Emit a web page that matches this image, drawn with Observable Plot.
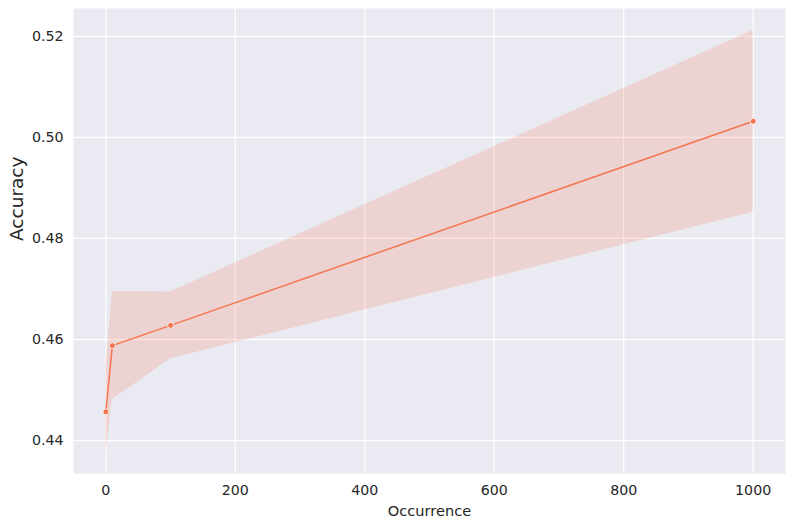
<!DOCTYPE html>
<html>
<head>
<meta charset="utf-8">
<script src="https://cdn.jsdelivr.net/npm/d3@7"></script>
<script src="https://cdn.jsdelivr.net/npm/@observablehq/plot@0.6"></script>
<style>
  html, body { margin: 0; padding: 0; background: #ffffff; }
  #chart { width: 793px; height: 529px; }
</style>
</head>
<body>
<div id="chart"></div>
<script>
const occurrence = [0, 10, 100, 1000];
const accuracy = [0.4457, 0.4588, 0.4628, 0.5032];
const lowerCI = [0.4370, 0.4481, 0.4562, 0.4852];
const upperCI = [0.4544, 0.4695, 0.4694, 0.5212];
const xTicks = [0, 200, 400, 600, 800, 1000];
const yTicks = [0.44, 0.46, 0.48, 0.50, 0.52];
const xLabel = "Occurrence";
const yLabel = "Accuracy";

const data = occurrence.map((o, i) => ({x: o, y: accuracy[i], lo: lowerCI[i], hi: upperCI[i]}));
const color = "#F4754F";
const textColor = "#262626";

const chart = Plot.plot({
  width: 793,
  height: 529,
  marginLeft: 73,
  marginRight: 8,
  marginTop: 8,
  marginBottom: 56,
  style: {fontFamily: "DejaVu Sans", fontSize: "14.2px", background: "#ffffff", color: textColor},
  x: {domain: [-50, 1050]},
  y: {domain: [0.4335, 0.5255]},
  marks: [
    Plot.frame({fill: "#EAEAF2", stroke: null}),
    Plot.ruleY(yTicks, {y: d => d, stroke: "#ffffff", strokeWidth: 1.25}),
    Plot.ruleX(xTicks, {x: d => d, stroke: "#ffffff", strokeWidth: 1.25}),
    Plot.areaY(data, {x: "x", y1: "lo", y2: "hi", fill: color, fillOpacity: 0.2}),
    Plot.line(data, {x: "x", y: "y", stroke: color, strokeWidth: 1.5}),
    Plot.dot(data, {x: "x", y: "y", r: 3, fill: color, stroke: "#ffffff", strokeWidth: 0.8}),
    Plot.axisX({ticks: xTicks, tickSize: 0, tickPadding: 11, tickFormat: d3.format("d"), label: null, fill: textColor, fontSize: "14.2px"}),
    Plot.axisY({ticks: yTicks, tickSize: 0, tickPadding: 10, tickFormat: ".2f", label: null, fill: textColor, fontSize: "14.2px"}),
    Plot.text([xLabel], {frameAnchor: "bottom", dy: 42, text: d => d, fontSize: 14.6, fill: textColor}),
    Plot.text([yLabel], {frameAnchor: "left", dx: -56, rotate: -90, text: d => d, fontSize: 18.5, fill: textColor})
  ]
});
document.getElementById("chart").appendChild(chart);
</script>
</body>
</html>
